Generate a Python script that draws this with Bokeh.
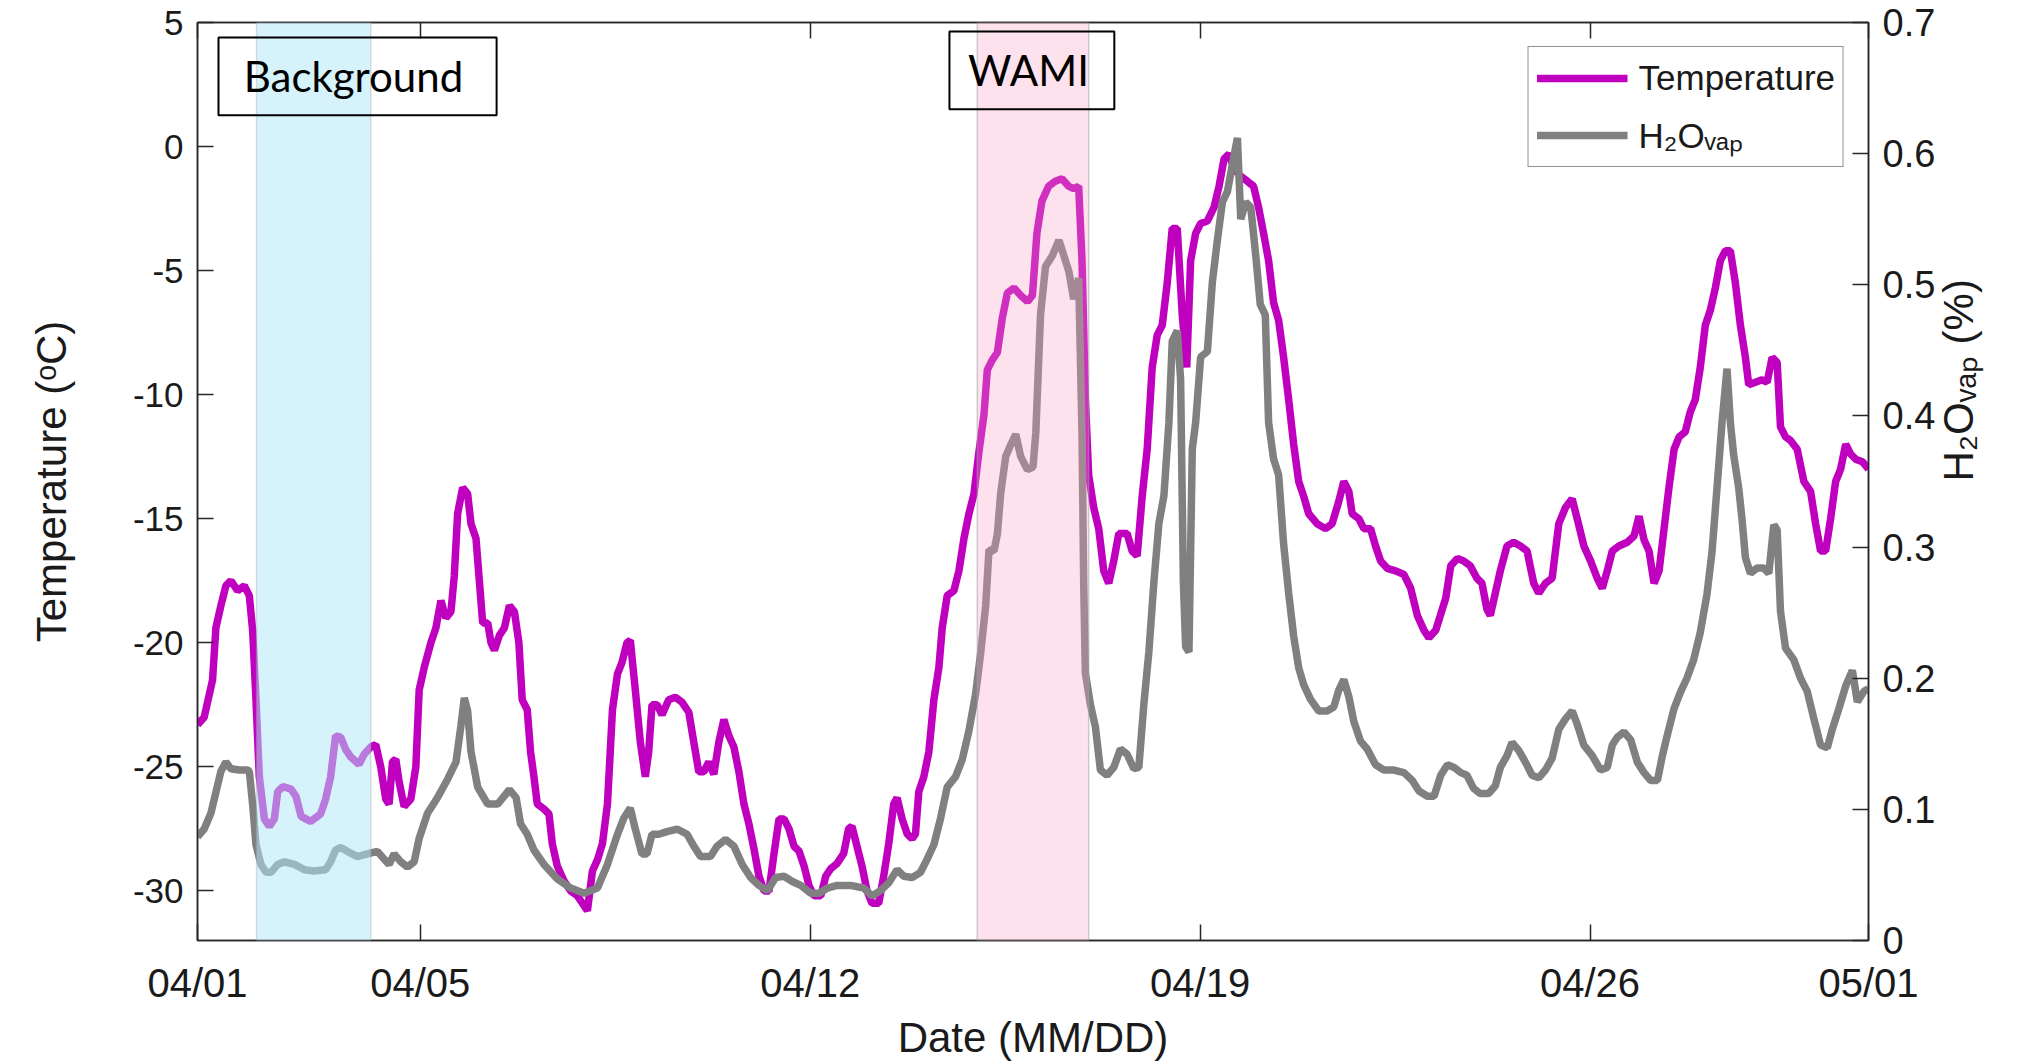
import math
from bokeh.plotting import figure
from bokeh.models import (Range1d, LinearAxis, FixedTicker, BoxAnnotation, Label)
from bokeh.embed import file_html
from bokeh.resources import INLINE

# ---------------- data (days since 04/01) ----------------
temp_day = [0.00, 0.12, 0.27, 0.33, 0.42, 0.51, 0.60, 0.72, 0.84, 0.93, 0.99, 1.05, 1.11, 1.20, 1.29,
            1.38, 1.44, 1.53, 1.68, 1.77, 1.86, 2.03, 2.21, 2.30, 2.39, 2.48, 2.57, 2.66, 2.75, 2.90,
            2.99, 3.11, 3.20, 3.29, 3.38, 3.44, 3.50, 3.56, 3.62, 3.71, 3.83, 3.92, 3.98, 4.07, 4.19,
            4.28, 4.37, 4.46, 4.55, 4.61, 4.67, 4.76, 4.85, 4.91, 5.00, 5.06, 5.12, 5.21, 5.27, 5.33,
            5.42, 5.51, 5.60, 5.69, 5.77, 5.83, 5.92, 5.98, 6.04, 6.10, 6.22, 6.31, 6.37, 6.46, 6.58,
            6.70, 6.82, 6.94, 7.00, 7.09, 7.18, 7.27, 7.36, 7.45, 7.54, 7.62, 7.71, 7.77, 7.86, 7.95,
            8.04, 8.10, 8.16, 8.25, 8.34, 8.46, 8.58, 8.70, 8.82, 8.91, 9.00, 9.09, 9.18, 9.27, 9.36,
            9.45, 9.54, 9.63, 9.72, 9.81, 9.90, 9.99, 10.08, 10.17, 10.26, 10.35, 10.44, 10.53, 10.62,
            10.71, 10.80, 10.89, 10.98, 11.07, 11.19, 11.28, 11.37, 11.48, 11.60, 11.69, 11.75, 11.84,
            11.93, 12.02, 12.11, 12.23, 12.32, 12.41, 12.50, 12.56, 12.65, 12.74, 12.83, 12.89, 12.95,
            13.04, 13.13, 13.22, 13.31, 13.37, 13.46, 13.58, 13.67, 13.76, 13.85, 13.94, 14.03, 14.12,
            14.18, 14.27, 14.36, 14.45, 14.54, 14.66, 14.78, 14.90, 14.99, 15.07, 15.16, 15.28, 15.40,
            15.52, 15.64, 15.73, 15.82, 15.88, 15.94, 16.00, 16.09, 16.18, 16.27, 16.36, 16.45, 16.54,
            16.69, 16.78, 16.87, 16.96, 17.05, 17.14, 17.23, 17.32, 17.41, 17.50, 17.59, 17.68, 17.76,
            17.83, 17.92, 18.01, 18.13, 18.25, 18.34, 18.43, 18.52, 18.61, 18.73, 18.85, 18.96, 19.05,
            19.14, 19.23, 19.32, 19.41, 19.50, 19.59, 19.68, 19.77, 19.86, 19.95, 20.10, 20.25, 20.37,
            20.49, 20.58, 20.67, 20.73, 20.85, 20.94, 21.06, 21.15, 21.24, 21.36, 21.51, 21.66, 21.78,
            21.90, 22.02, 22.11, 22.23, 22.41, 22.50, 22.62, 22.73, 22.85, 22.97, 23.06, 23.15, 23.21,
            23.30, 23.39, 23.51, 23.63, 23.75, 23.87, 23.99, 24.08, 24.20, 24.32, 24.44, 24.56, 24.68,
            24.77, 24.89, 25.01, 25.13, 25.22, 25.31, 25.40, 25.52, 25.67, 25.79, 25.88, 25.97, 26.06,
            26.15, 26.24, 26.33, 26.42, 26.51, 26.60, 26.71, 26.80, 26.89, 26.98, 27.07, 27.16, 27.25,
            27.34, 27.43, 27.52, 27.61, 27.70, 27.79, 27.85, 27.97, 28.09, 28.18, 28.27, 28.36, 28.42,
            28.51, 28.60, 28.72, 28.84, 28.96, 29.05, 29.14, 29.23, 29.32, 29.41, 29.50, 29.59, 29.68,
            29.77, 29.89, 30.00]
temp_c = [-23.3, -23.0, -21.5, -19.4, -18.5, -17.7, -17.5, -17.9, -17.7, -18.1, -19.5, -22.3, -25.4, -27.1, -27.4,
          -27.1, -26.0, -25.8, -25.9, -26.2, -27.0, -27.2, -26.9, -26.3, -25.4, -23.75, -23.8, -24.3, -24.6, -24.9,
          -24.5, -24.2, -24.1, -25.0, -26.3, -26.5, -24.8, -24.7, -25.6, -26.6, -26.3, -25.0, -21.9, -21.0, -20.0,
          -19.4, -18.3, -19.0, -18.75, -17.3, -14.8, -13.75, -14.0, -15.2, -15.8, -17.5, -19.2, -19.2, -20.0, -20.3,
          -19.7, -19.4, -18.5, -18.75, -20.0, -22.3, -22.7, -24.4, -25.4, -26.5, -26.7, -26.9, -28.1, -29.0, -29.6,
          -30.0, -30.2, -30.6, -30.8, -29.2, -28.75, -28.1, -26.5, -22.7, -21.25, -20.8, -20.0, -19.9, -21.9, -24.0,
          -25.4, -24.4, -22.5, -22.5, -22.9, -22.3, -22.2, -22.4, -22.8, -24.0, -25.2, -25.2, -24.8, -25.3, -24.0,
          -23.1, -23.75, -24.2, -25.2, -26.5, -27.3, -28.3, -29.4, -30.0, -30.0, -28.5, -27.1, -27.1, -27.5,
          -28.2, -28.4, -29.0, -29.8, -30.2, -30.2, -29.4, -29.1, -28.9, -28.5, -27.5, -27.4, -28.2,
          -29.0, -30.0, -30.5, -30.5, -29.4, -28.1, -26.5, -26.25, -27.1, -27.7, -27.9, -27.7, -26.0,
          -25.4, -24.4, -22.3, -21.0, -19.4, -18.1, -17.9, -17.1, -15.8, -14.8, -14.0, -12.3, -10.8,
          -9.0, -8.6, -8.3, -6.9, -5.9, -5.7, -6.0, -6.25, -6.0, -3.5, -2.2, -1.6, -1.4,
          -1.3, -1.6, -1.7, -1.6, -4.6, -10.2, -13.25, -14.55, -15.4, -17.1, -17.6, -16.7, -15.6,
          -15.6, -16.3, -16.5, -14.1, -12.2, -8.9, -7.6, -7.2, -5.5, -3.3, -3.3, -6.8, -8.9,
          -4.6, -3.5, -3.1, -3.0, -2.45, -1.6, -0.5, -0.3, -0.9, -1.2, -1.4, -1.6, -2.45,
          -3.5, -4.6, -6.3, -7.0, -8.5, -10.2, -12.0, -13.5, -14.1, -14.8, -15.2, -15.4, -15.2,
          -14.3, -13.5, -13.9, -14.8, -15.0, -15.4, -15.4, -16.1, -16.7, -17.0, -17.1, -17.25, -17.8,
          -18.9, -19.5, -19.8, -19.5, -18.2, -16.9, -16.6, -16.7, -16.9, -17.4, -17.6, -18.65, -18.9,
          -18.0, -17.1, -16.1, -15.95, -16.1, -16.3, -17.6, -18.0, -17.6, -17.4, -15.2, -14.55, -14.2,
          -15.0, -16.1, -16.7, -17.4, -17.8, -17.1, -16.3, -16.1, -15.95, -15.7, -14.9, -15.85, -16.3,
          -17.6, -17.1, -15.4, -13.7, -12.2, -11.7, -11.5, -10.7, -10.2, -8.9, -7.2, -6.6, -5.7,
          -4.6, -4.2, -4.2, -5.5, -7.2, -8.5, -9.6, -9.5, -9.4, -9.5, -8.5, -8.7, -11.3,
          -11.7, -11.85, -12.2, -13.5, -13.9, -15.2, -16.3, -16.3, -15.0, -13.5, -13.0, -12.0, -12.4,
          -12.6, -12.7, -13.0]

h2o_day = [0.00, 0.12, 0.24, 0.33, 0.42, 0.51, 0.60, 0.75, 0.90, 0.93, 0.99, 1.05, 1.14, 1.23, 1.32,
           1.44, 1.56, 1.74, 1.92, 2.09, 2.30, 2.39, 2.48, 2.57, 2.69, 2.87, 3.05, 3.23, 3.35, 3.44,
           3.53, 3.65, 3.77, 3.89, 3.98, 4.13, 4.31, 4.49, 4.64, 4.73, 4.79, 4.85, 4.91, 5.03, 5.21,
           5.39, 5.60, 5.72, 5.80, 5.92, 6.04, 6.22, 6.46, 6.70, 6.94, 7.18, 7.36, 7.54, 7.65, 7.77,
           7.86, 7.98, 8.07, 8.16, 8.28, 8.43, 8.61, 8.79, 8.91, 9.03, 9.21, 9.33, 9.48, 9.63, 9.78,
           9.93, 10.08, 10.23, 10.38, 10.53, 10.68, 10.83, 11.01, 11.16, 11.31, 11.48, 11.72, 11.96, 12.11,
           12.26, 12.41, 12.56, 12.68, 12.83, 12.98, 13.10, 13.22, 13.34, 13.46, 13.61, 13.73, 13.85,
           13.97, 14.06, 14.15, 14.21, 14.30, 14.36, 14.42, 14.51, 14.60, 14.69, 14.78, 14.90, 15.00,
           15.05, 15.135, 15.225, 15.345, 15.465, 15.555, 15.645, 15.73, 15.82, 15.88, 15.91, 15.94, 16.03,
           16.12, 16.21, 16.33, 16.45, 16.57, 16.69, 16.81, 16.90, 16.99, 17.08, 17.17, 17.26, 17.35,
           17.44, 17.50, 17.59, 17.65, 17.70, 17.74, 17.80, 17.86, 17.92, 18.01, 18.13, 18.22, 18.31,
           18.40, 18.49, 18.58, 18.67, 18.73, 18.82, 18.91, 19.00, 19.08, 19.17, 19.23, 19.32, 19.41,
           19.50, 19.59, 19.68, 19.77, 19.86, 19.98, 20.13, 20.28, 20.40, 20.49, 20.58, 20.67, 20.76,
           20.88, 21.00, 21.15, 21.30, 21.48, 21.66, 21.81, 21.93, 22.08, 22.20, 22.32, 22.44, 22.56,
           22.68, 22.79, 22.91, 23.03, 23.18, 23.30, 23.39, 23.51, 23.60, 23.72, 23.84, 23.96, 24.08,
           24.20, 24.32, 24.44, 24.56, 24.68, 24.77, 24.89, 25.04, 25.19, 25.31, 25.40, 25.49, 25.61,
           25.73, 25.85, 25.97, 26.09, 26.21, 26.30, 26.39, 26.51, 26.63, 26.74, 26.86, 26.98, 27.10,
           27.19, 27.28, 27.37, 27.46, 27.52, 27.58, 27.67, 27.73, 27.79, 27.88, 28.00, 28.12, 28.21,
           28.30, 28.36, 28.42, 28.51, 28.66, 28.78, 28.90, 29.02, 29.14, 29.26, 29.35, 29.47, 29.59,
           29.71, 29.80, 29.92, 30.00]
h2o_pct = [0.079, 0.085, 0.097, 0.113, 0.129, 0.136, 0.131, 0.130, 0.130, 0.129, 0.104, 0.073, 0.058, 0.052, 0.052,
           0.058, 0.060, 0.058, 0.054, 0.053, 0.054, 0.060, 0.069, 0.071, 0.068, 0.064, 0.066, 0.068, 0.062, 0.058,
           0.066, 0.060, 0.056, 0.060, 0.078, 0.097, 0.109, 0.123, 0.136, 0.164, 0.185, 0.175, 0.144, 0.117, 0.104,
           0.104, 0.115, 0.109, 0.089, 0.081, 0.069, 0.058, 0.047, 0.040, 0.036, 0.040, 0.058, 0.081, 0.093, 0.101,
           0.085, 0.066, 0.066, 0.081, 0.081, 0.083, 0.085, 0.081, 0.072, 0.064, 0.064, 0.072, 0.077, 0.072, 0.058,
           0.048, 0.042, 0.038, 0.048, 0.049, 0.045, 0.042, 0.036, 0.036, 0.040, 0.042, 0.042, 0.040, 0.034,
           0.038, 0.044, 0.054, 0.049, 0.048, 0.052, 0.062, 0.073, 0.093, 0.117, 0.125, 0.138, 0.160,
           0.188, 0.219, 0.255, 0.298, 0.297, 0.310, 0.341, 0.369, 0.378, 0.386, 0.369, 0.359, 0.361,
           0.387, 0.477, 0.514, 0.522, 0.534, 0.522, 0.510, 0.489, 0.505, 0.387, 0.273, 0.204, 0.180,
           0.163, 0.130, 0.126, 0.132, 0.146, 0.142, 0.131, 0.132, 0.180, 0.220, 0.273, 0.318, 0.339,
           0.395, 0.457, 0.465, 0.428, 0.273, 0.224, 0.220, 0.375, 0.395, 0.445, 0.449, 0.502, 0.534,
           0.563, 0.571, 0.592, 0.612, 0.550, 0.563, 0.559, 0.522, 0.485, 0.477, 0.395, 0.367, 0.355,
           0.302, 0.265, 0.232, 0.208, 0.195, 0.184, 0.175, 0.175, 0.178, 0.191, 0.199, 0.186, 0.167,
           0.152, 0.146, 0.134, 0.130, 0.130, 0.128, 0.122, 0.114, 0.110, 0.110, 0.126, 0.134, 0.132,
           0.128, 0.126, 0.116, 0.112, 0.112, 0.118, 0.132, 0.141, 0.151, 0.145, 0.136, 0.126, 0.124,
           0.130, 0.139, 0.161, 0.169, 0.175, 0.165, 0.149, 0.141, 0.130, 0.132, 0.149, 0.155, 0.159,
           0.153, 0.136, 0.128, 0.122, 0.122, 0.141, 0.157, 0.177, 0.190, 0.200, 0.214, 0.235, 0.264,
           0.296, 0.345, 0.395, 0.436, 0.395, 0.370, 0.345, 0.321, 0.292, 0.280, 0.284, 0.284, 0.280,
           0.317, 0.313, 0.251, 0.223, 0.214, 0.200, 0.190, 0.169, 0.149, 0.147, 0.161, 0.177, 0.194,
           0.206, 0.182, 0.190, 0.192]

x_tick_days = [0, 4, 11, 18, 25, 30]
x_tick_labels = ["04/01", "04/05", "04/12", "04/19", "04/26", "05/01"]
temp_ticks = [-30, -25, -20, -15, -10, -5, 0, 5]
temp_tick_labels = ["-30", "-25", "-20", "-15", "-10", "-5", "0", "5"]
h2o_ticks = [0, 0.1, 0.2, 0.3, 0.4, 0.5, 0.6, 0.7]
h2o_tick_labels = ["0", "0.1", "0.2", "0.3", "0.4", "0.5", "0.6", "0.7"]
background_period = (1.06, 3.11)
wami_period = (14.0, 16.0)

# ---------------- figure ----------------
AX = "#262626"
TF = "Liberation Sans"

p = figure(width=2033, height=1063, output_backend="svg", toolbar_location=None,
           x_range=Range1d(0, 30), y_range=Range1d(-32, 5),
           min_border_left=197, min_border_right=165, min_border_top=22, min_border_bottom=120)
p.background_fill_color = "white"
p.border_fill_color = "white"
p.outline_line_color = AX
p.outline_line_width = 1.5
p.xgrid.visible = False
p.ygrid.visible = False

p.extra_y_ranges = {"h2o": Range1d(0, 0.7)}

temp_line = p.line(temp_day, temp_c, line_color="#bf00bf", line_width=7.5, legend_label="Temperature")
h2o_line = p.line(h2o_day, h2o_pct, line_color="#808080", line_width=7.5, y_range_name="h2o",
                  legend_label="H\u2082O\u1d65\u2090\u209a")

# bands (drawn over the lines, semi transparent)
p.add_layout(BoxAnnotation(left=background_period[0], right=background_period[1],
                           fill_color=(178, 230, 246), fill_alpha=0.53,
                           line_color="#a0a0a0", line_alpha=0.35, line_width=1.5))
p.add_layout(BoxAnnotation(left=wami_period[0], right=wami_period[1],
                           fill_color=(248, 160, 194), fill_alpha=0.3,
                           line_color="#a0a0a0", line_alpha=0.5, line_width=1.5))

# text boxes
p.add_layout(BoxAnnotation(left=0.377, right=5.37, bottom=1.26, top=4.40,
                           fill_color=None, line_color="black", line_alpha=1.0, line_width=2))
p.add_layout(BoxAnnotation(left=13.50, right=16.46, bottom=1.50, top=4.64,
                           fill_color=None, line_color="black", line_alpha=1.0, line_width=2))
p.add_layout(Label(x=2.80, y=2.83, text="Background", text_font="Lato", text_font_size="42px",
                   text_align="center", text_baseline="middle", text_color="black"))
p.add_layout(Label(x=14.92, y=3.07, text="WAMI", text_font="Lato", text_font_size="42px",
                   text_align="center", text_baseline="middle", text_color="black"))

# x axis (bottom)
xa = p.xaxis[0]
xa.ticker = FixedTicker(ticks=x_tick_days)
xa.major_label_overrides = {d: l for d, l in zip(x_tick_days, x_tick_labels)}
xa.axis_label = "Date (MM/DD)"

# left axis
ya = p.yaxis[0]
ya.ticker = FixedTicker(ticks=temp_ticks)
ya.major_label_overrides = {t: l for t, l in zip(temp_ticks, temp_tick_labels)}
ya.axis_label = "Temperature (\u1d52C)"

# right axis
ra = LinearAxis(y_range_name="h2o", ticker=FixedTicker(ticks=h2o_ticks),
                axis_label="H\u2082O\u1d65\u2090\u209a (%)")
ra.major_label_overrides = {t: l for t, l in zip(h2o_ticks, h2o_tick_labels)}
p.add_layout(ra, "right")

# top axis (ticks only)
ta = LinearAxis(ticker=FixedTicker(ticks=x_tick_days))
ta.major_label_text_color = None
ta.major_label_text_font_size = "1px"
ta.major_label_standoff = 0
p.add_layout(ta, "above")

for ax, fs in ((xa, "40px"), (ya, "35px"), (ra, "38px"), (ta, "1px")):
    ax.axis_line_color = AX
    ax.axis_line_width = 1.5
    ax.major_tick_line_color = AX
    ax.major_tick_line_width = 1.5
    ax.major_tick_in = 16
    ax.major_tick_out = 0
    ax.minor_tick_line_color = None
    ax.major_label_text_font = TF
    ax.major_label_text_font_size = fs
    if ax is not ta:
        ax.major_label_text_color = "#1a1a1a"
    ax.axis_label_text_font = TF
    ax.axis_label_text_font_size = "42px"
    ax.axis_label_text_font_style = "normal"
    ax.axis_label_text_color = "#1a1a1a"

xa.major_label_standoff = 20
xa.axis_label_standoff = 6
ya.major_label_standoff = 14
ya.axis_label_standoff = 55
ra.major_label_standoff = 14
ra.axis_label_standoff = 20
ra.axis_label_orientation = math.pi / 2

# legend
lg = p.legend[0]
lg.location = "top_right"
lg.margin = 24
lg.padding = 8
lg.spacing = 10
lg.glyph_width = 91
lg.glyph_height = 46
lg.label_standoff = 11
lg.label_text_font = TF
lg.label_text_font_size = "35px"
lg.label_text_color = "#1a1a1a"
lg.border_line_color = AX
lg.border_line_width = 1.5
lg.background_fill_color = "white"
lg.background_fill_alpha = 1.0

open("out.html", "w").write(file_html(p, INLINE))
